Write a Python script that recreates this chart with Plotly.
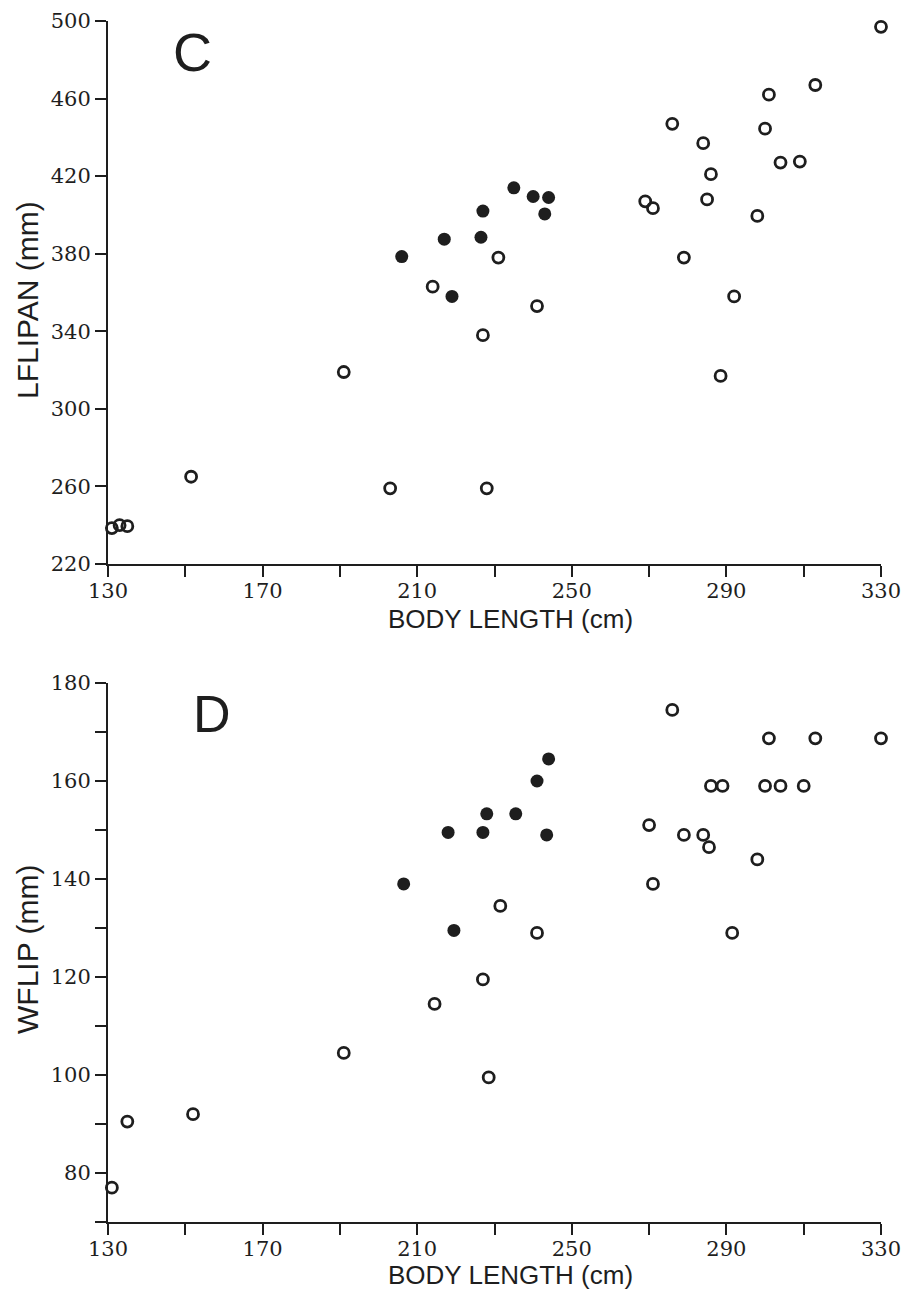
import plotly.graph_objects as go

# ---- Panel C: LFLIPAN vs body length ----
c_open_x = [330, 313, 301, 276, 284, 300, 304, 309, 286, 269, 271, 285, 298, 279, 231, 214, 241, 227, 292, 288.5, 203, 228, 191, 151.5, 131, 133, 135]
c_open_y = [497, 467, 462, 447, 437, 444.5, 427, 427.5, 421, 407, 403.5, 408, 399.5, 378, 378, 363, 353, 338, 358, 317, 259, 259, 319, 265, 238.5, 240, 239.5]
c_fill_x = [235, 240, 244, 243, 227, 217, 226.5, 206, 219]
c_fill_y = [414, 409.5, 409, 400.5, 402, 387.5, 388.5, 378.5, 358]

# ---- Panel D: WFLIP vs body length ----
d_open_x = [276, 301, 313, 330, 286, 289, 300, 304, 310, 270, 279, 284, 285.5, 298, 271, 231.5, 241, 291.5, 214.5, 227, 228.5, 191, 152, 135, 131]
d_open_y = [174.5, 168.7, 168.7, 168.7, 159, 159, 159, 159, 159, 151, 149, 149, 146.5, 144, 139, 134.5, 129, 129, 114.5, 119.5, 99.5, 104.5, 92, 90.5, 77]
d_fill_x = [244, 241, 228, 235.5, 218, 227, 243.5, 206.5, 219.5]
d_fill_y = [164.5, 160, 153.3, 153.3, 149.5, 149.5, 149, 139, 129.5]

x_ticks = [130, 150, 170, 190, 210, 230, 250, 270, 290, 310, 330]
x_labels = ["130", "", "170", "", "210", "", "250", "", "290", "", "330"]
c_y_ticks = [220, 260, 300, 340, 380, 420, 460, 500]
d_y_ticks = [70, 80, 90, 100, 110, 120, 130, 140, 150, 160, 170, 180]
d_y_labels = ["", "80", "", "100", "", "120", "", "140", "", "160", "", "180"]

INK = "#1e1e1e"
open_marker = dict(symbol="circle-open", size=11, color=INK, line=dict(width=2.8, color=INK))
fill_marker = dict(symbol="circle", size=13, color=INK, line=dict(width=0))

fig = go.Figure()
fig.add_trace(go.Scatter(x=c_open_x, y=c_open_y, mode="markers", marker=open_marker,
                         xaxis="x", yaxis="y", cliponaxis=False, showlegend=False))
fig.add_trace(go.Scatter(x=c_fill_x, y=c_fill_y, mode="markers", marker=fill_marker,
                         xaxis="x", yaxis="y", cliponaxis=False, showlegend=False))
fig.add_trace(go.Scatter(x=d_open_x, y=d_open_y, mode="markers", marker=open_marker,
                         xaxis="x2", yaxis="y2", cliponaxis=False, showlegend=False))
fig.add_trace(go.Scatter(x=d_fill_x, y=d_fill_y, mode="markers", marker=fill_marker,
                         xaxis="x2", yaxis="y2", cliponaxis=False, showlegend=False))

tickfont = dict(family="DejaVu Serif", size=21, color=INK)
SANS = "Liberation Sans, Arial, sans-serif"
xtitlefont = dict(family=SANS, size=26, color=INK)
ytitlefont = dict(family=SANS, size=30, color=INK)
common_axis = dict(showline=True, linecolor=INK, linewidth=2, ticks="outside", ticklen=11,
                   tickwidth=2, tickcolor=INK, showgrid=False, zeroline=False,
                   tickfont=tickfont, tickmode="array", automargin=False)

# the page body adds an 8px offset, so the figure is placed to compensate
FIG_W, FIG_H = 904, 1284
L, R, T, B = 100, 31, 13, 70
W_plot = FIG_W - L - R
H_plot = FIG_H - T - B


def px(x_ref):
    return (x_ref - 8 - L) / W_plot


def py(y_ref):
    return 1 - (y_ref - 8 - T) / H_plot


def dom(y_top_ref, y_bot_ref):
    return [min(1.0, max(0.0, py(y_bot_ref))), min(1.0, max(0.0, py(y_top_ref)))]


fig.update_layout(
    width=FIG_W, height=FIG_H,
    margin=dict(l=L, r=R, t=T, b=B),
    paper_bgcolor="white", plot_bgcolor="white",
    xaxis=dict(domain=[0, 1], range=[130, 330], anchor="y", tickvals=x_ticks, ticktext=x_labels,
               ticklabelstandoff=-4, **common_axis),
    yaxis=dict(domain=dom(21, 564), range=[220, 500], anchor="x", tickvals=c_y_ticks,
               ticktext=[str(v) for v in c_y_ticks], **common_axis),
    xaxis2=dict(domain=[0, 1], range=[130, 330], anchor="y2", tickvals=x_ticks, ticktext=x_labels,
                ticklabelstandoff=-4, **common_axis),
    yaxis2=dict(domain=dom(683, 1222), range=[70, 180], anchor="x2", tickvals=d_y_ticks,
                ticktext=d_y_labels, **common_axis),
    annotations=[
        dict(text="C", x=px(192), y=py(52), xref="paper", yref="paper",
             showarrow=False, font=dict(family=SANS, size=54, color=INK),
             xanchor="center", yanchor="middle"),
        dict(text="D", x=px(212), y=py(714), xref="paper", yref="paper",
             showarrow=False, font=dict(family=SANS, size=52, color=INK),
             xanchor="center", yanchor="middle"),
        dict(text="BODY LENGTH (cm)", x=px(511), y=py(619), xref="paper", yref="paper",
             showarrow=False, font=xtitlefont, xanchor="center", yanchor="middle"),
        dict(text="BODY LENGTH (cm)", x=px(511), y=py(1275), xref="paper", yref="paper",
             showarrow=False, font=xtitlefont, xanchor="center", yanchor="middle"),
        dict(text="LFLIPAN (mm)", x=px(27), y=py(300), xref="paper", yref="paper", textangle=-90,
             showarrow=False, font=ytitlefont, xanchor="center", yanchor="middle"),
        dict(text="WFLIP (mm)", x=px(28), y=py(950), xref="paper", yref="paper", textangle=-90,
             showarrow=False, font=ytitlefont, xanchor="center", yanchor="middle"),
    ],
)

fig.write_html("out.html")
